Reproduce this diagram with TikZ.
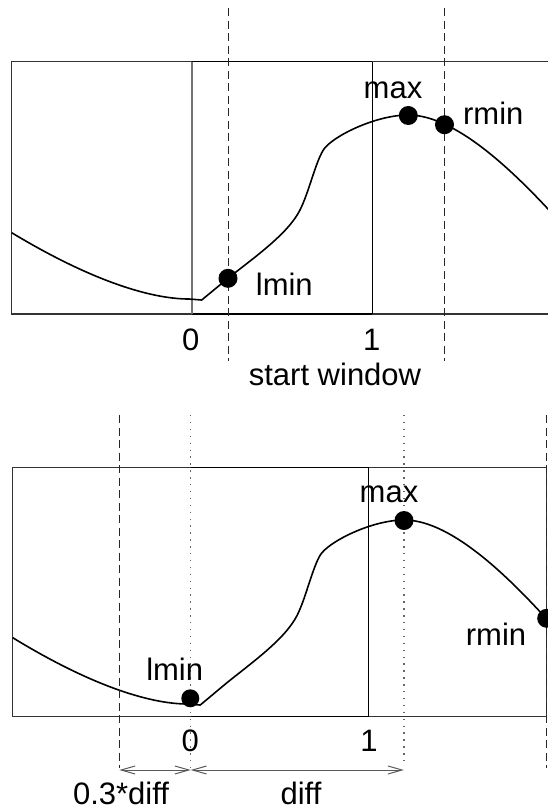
\documentclass[tikz,border=0pt]{standalone}
\usepackage{fontspec}
\setmainfont{Liberation Sans}
\usetikzlibrary{arrows.meta}
\begin{document}
\begin{tikzpicture}[x=1pt,y=-1pt,
  lbl/.style={inner sep=0pt, anchor=base, font=\fontsize{31}{36}\selectfont},
  frame/.style={draw=black!80, line width=1.1pt},
  win/.style={draw=black, line width=1.2pt},
  zeroline/.style={draw=black!55, line width=1.5pt},
  oneline/.style={draw=black, line width=1pt},
  dashv/.style={draw=black!85, line width=1pt, dash pattern=on 8pt off 4.5pt},
  dotv/.style={draw=black!60, line width=1.4pt, dash pattern=on 1.4pt off 5.5pt},
  curve/.style={draw=black, line width=1.6pt, line join=round},
  pt/.style={circle, fill=black, inner sep=0pt, minimum size=19pt},
  dim/.style={draw=black!65, line width=1pt, {Straight Barb[length=14pt,width=8pt]}-{Straight Barb[length=14pt,width=8pt]}}
]
\clip (0,0) rectangle (548,812);
\useasboundingbox (0,0) rectangle (548,812);

% ---------- top panel ----------
\draw[frame] (11.7,61.7) rectangle (560,314);
\coordinate (wt1) at (192,61.7); \coordinate (wt2) at (372,61.7);
\coordinate (wb1) at (192,314);  \coordinate (wb2) at (372,314);
\draw[win] (wt1) -- (wt2);
\draw[win] (wb1) -- (wb2);
\draw[zeroline] (wt1) -- (wb1);
\draw[oneline] (wt2) -- (wb2);

% ---------- bottom panel ----------
\draw[frame] (12.7,467.3) rectangle (546.5,716.7);
\coordinate (vt1) at (190.7,467.3); \coordinate (vt2) at (368.3,467.3);
\coordinate (vb1) at (190.7,716.7); \coordinate (vb2) at (368.3,716.7);
\draw[win] (vt1) -- (vt2);
\draw[win] (vb1) -- (vb2);
\draw[oneline] (vt2) -- (vb2);

% ---------- curves ----------
\foreach \dx/\dy/\sx in {0/0/1, 1.2/405/0.987}{
\begin{scope}[shift={(\dx,\dy)}, xscale=\sx]
\draw[curve] (11.7,232.7) .. controls (90,280) and (150,299) .. (189,299)
  -- (201.7,300) -- (228,278.3)
  .. controls (253,258.3) and (288,234) .. (300,210)
  .. controls (309,192) and (315.3,163) .. (323.3,150)
  .. controls (331.3,137) and (375,115) .. (408.3,115)
  .. controls (458.3,115) and (520,178) .. (560,222);
\end{scope}}

% ---------- vertical guide lines ----------
\coordinate (d1t) at (228,8);   \coordinate (d1b) at (228,361);
\coordinate (d2t) at (444.5,8); \coordinate (d2b) at (444.5,361);
\draw[dashv] (d1t) -- (d1b);
\draw[dashv] (d2t) -- (d2b);

\coordinate (b1t) at (119.3,415); \coordinate (b1b) at (119.3,768);
\coordinate (b2t) at (190.7,415); \coordinate (b2b) at (190.7,772);
\coordinate (b3t) at (403.8,415); \coordinate (b3b) at (403.8,766);
\coordinate (b4t) at (546.7,415); \coordinate (b4b) at (546.7,768);
\draw[dashv] (b1t) -- (b1b);
\draw[dotv]  (b2t) -- (b2b);
\draw[dotv]  (b3t) -- (b3b);
\draw[dashv] (b4t) -- (b4b);

% ---------- dimension arrows ----------
\coordinate (a1) at (119.3,770);
\coordinate (a2) at (190.7,770);
\coordinate (a3) at (403.8,770);
\draw[dim] (a1) -- (a2);
\draw[dim] (a2) -- (a3);

% ---------- points ----------
\node[pt] (lminT) at (228,278.3) {};
\node[pt] (maxT)  at (408.3,115.5) {};
\node[pt] (rminT) at (444.5,124.7) {};
\node[pt, minimum size=18pt] (lminB) at (190.3,698.3) {};
\node[pt] (maxB)  at (404,520.5) {};
\node[pt] (rminB) at (546.7,618.3) {};

% ---------- labels ----------
\node[lbl] (tmax)  at (393,98)   {max};
\node[lbl] (trmin) at (493.3,124) {rmin};
\node[lbl] (tlmin) at (284.3,295) {lmin};
\node[lbl] (t0)    at (190.7,350) {0};
\node[lbl] (t1)    at (371.7,350) {1};
\node[lbl] (tsw)   at (335,385)  {start window};

\node[lbl] (bmax)  at (389,502.7) {max};
\node[lbl] (brmin) at (496,645)   {rmin};
\node[lbl] (blmin) at (174.7,680) {lmin};
\node[lbl] (b0)    at (190.3,751) {0};
\node[lbl] (b1)    at (369,751)   {1};
\node[lbl] (bdiff3) at (121,804)  {0.3*diff};
\node[lbl] (bdiff) at (301,804)   {diff};
\end{tikzpicture}
\end{document}
